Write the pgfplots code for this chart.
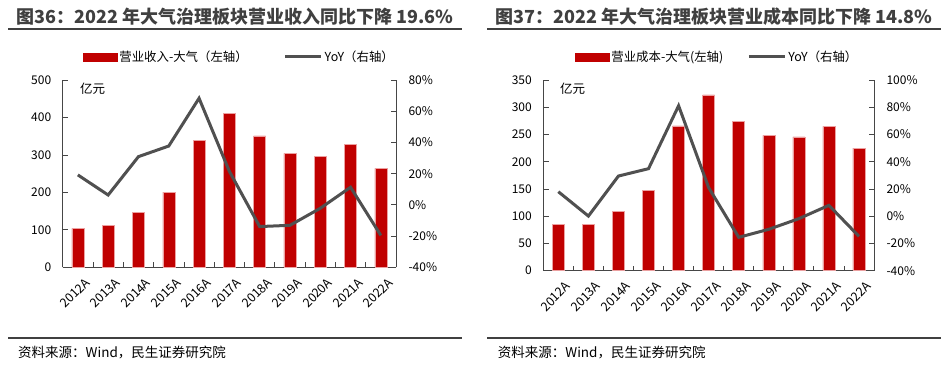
\documentclass[border=0pt]{standalone}
\usepackage{fontspec}
\setmainfont{Noto Sans CJK SC}
\usepackage{pgfplots}
\pgfplotsset{compat=1.18}
\definecolor{barred}{RGB}{192,0,0}
\definecolor{baredge}{RGB}{236,160,160}
\definecolor{linegray}{RGB}{80,80,80}
\definecolor{titlegray}{RGB}{64,64,64}
\definecolor{axgray}{RGB}{70,70,70}
\pgfplotsset{
 base/.style={
  scale only axis, xmin=-0.5, xmax=10.5,
  tick align=inside, major tick length=5.5pt, minor tick length=5pt,
  /pgf/number format/assume math mode=true,
  tick label style={font=\fontsize{12}{14}\selectfont, text=black},
  axis line style={axgray, line width=0.8pt},
  tick style={axgray, line width=0.8pt},
  clip=false,
 },
 barax/.style={
  base, axis y line*=left, axis x line*=bottom,
  xtick={0,...,10},
  xticklabels={2012A,2013A,2014A,2015A,2016A,2017A,2018A,2019A,2020A,2021A,2022A},
  minor xtick={0.5,1.5,...,9.5},
  every major x tick/.append style={draw opacity=0},
  xticklabel style={font=\fontsize{12.5}{14}\selectfont, rotate=45, anchor=north east, xshift=1pt, yshift=-8pt},
  yticklabel style={xshift=-8pt},
 },
 lineax/.style={
  base, axis y line*=right, axis x line=none,
  yticklabel={\pgfmathprintnumber{\tick}\%},
  yticklabel style={xshift=9pt},
  legend columns=2,
  legend style={draw=none, fill=none, inner sep=0pt, outer sep=0pt,
    nodes={font=\fontsize{12.4}{14}\selectfont, inner sep=2pt}},
 },
 barplot/.style={ybar, bar width=12pt, fill=barred, draw=baredge, line width=0.5pt},
}
\begin{document}
\begin{tikzpicture}
\path[use as bounding box, fill=white] (0,0) rectangle (949pt,367pt);

% ---------------- Left chart ----------------
\node[font=\fontsize{18}{20}\selectfont\bfseries, text=titlegray] at (235pt,350pt) {图36：2022 年大气治理板块营业收入同比下降 19.6\%};
\draw[titlegray, line width=2.3pt] (8pt,338pt) -- (462pt,338pt);

\begin{axis}[barax, at={(62.7pt,99.7pt)}, anchor=south west, width=333.3pt, height=187.3pt,
  ymin=0, ymax=500, ytick={0,100,...,500}]
\addplot[barplot] coordinates {(0,104) (1,112) (2,146) (3,201) (4,339) (5,410) (6,351) (7,304) (8,296) (9,329) (10,264)};
\end{axis}
\begin{axis}[lineax, at={(62.7pt,99.7pt)}, anchor=south west, width=333.3pt, height=187.3pt,
  ymin=-40, ymax=80, ytick={-40,-20,...,80},
  legend style={at={(0.061,1)}, anchor=west, yshift=23pt,
    /tikz/column 2/.style={column sep=34pt}}]
\addlegendimage{legend image code/.code={\fill[barred] (0pt,-3.8pt) rectangle (34pt,3.8pt);}}
\addplot[linegray, line width=3pt, legend image code/.code={\draw[linegray, line width=3pt] (0pt,0pt) -- (36pt,0pt);}] coordinates {(0,19.2) (1,6.3) (2,30.9) (3,37.7) (4,68.3) (5,21.5) (6,-13.9) (7,-13.1) (8,-2.2) (9,11.3) (10,-19.6)};
\legend{营业收入-大气（左轴）, YoY（右轴）}
\end{axis}
\node[font=\fontsize{12.5}{14}\selectfont] at (92.5pt,278.7pt) {亿元};
\draw[titlegray, line width=2pt] (8pt,29pt) -- (462pt,29pt);
\node[anchor=west, inner sep=0pt, font=\fontsize{13.5}{15}\selectfont] at (18pt,15pt) {资料来源：Wind，民生证券研究院};

% ---------------- Right chart ----------------
\node[font=\fontsize{18}{20}\selectfont\bfseries, text=titlegray] at (713.8pt,350pt) {图37：2022 年大气治理板块营业成本同比下降 14.8\%};
\draw[titlegray, line width=2.3pt] (487pt,338pt) -- (941pt,338pt);

\begin{axis}[barax, at={(543.3pt,96.3pt)}, anchor=south west, width=330.7pt, height=190.7pt,
  ymin=0, ymax=350, ytick={0,50,...,350}]
\addplot[barplot] coordinates {(0,84.4) (1,84.4) (2,109.5) (3,147.5) (4,266) (5,322.5) (6,273.5) (7,248.5) (8,245.4) (9,265) (10,225.2)};
\end{axis}
\begin{axis}[lineax, at={(543.3pt,96.3pt)}, anchor=south west, width=330.7pt, height=190.7pt,
  ymin=-40, ymax=100, ytick={-40,-20,...,100},
  legend style={at={(0.0959,1)}, anchor=west, yshift=23pt,
    /tikz/column 2/.style={column sep=22pt}}]
\addlegendimage{legend image code/.code={\fill[barred] (0pt,-3.8pt) rectangle (34pt,3.8pt);}}
\addplot[linegray, line width=3pt, legend image code/.code={\draw[linegray, line width=3pt] (0pt,0pt) -- (36pt,0pt);}] coordinates {(0,18.0) (1,0.1) (2,29.5) (3,34.9) (4,81.1) (5,21.0) (6,-15.5) (7,-9.6) (8,-1.8) (9,8.0) (10,-14.8)};
\legend{营业成本-大气(左轴), YoY（右轴）}
\end{axis}
\node[font=\fontsize{12.5}{14}\selectfont] at (572.5pt,278pt) {亿元};
\draw[titlegray, line width=2pt] (487pt,29pt) -- (941pt,29pt);
\node[anchor=west, inner sep=0pt, font=\fontsize{13.5}{15}\selectfont] at (497.7pt,15pt) {资料来源：Wind，民生证券研究院};
\end{tikzpicture}
\end{document}
